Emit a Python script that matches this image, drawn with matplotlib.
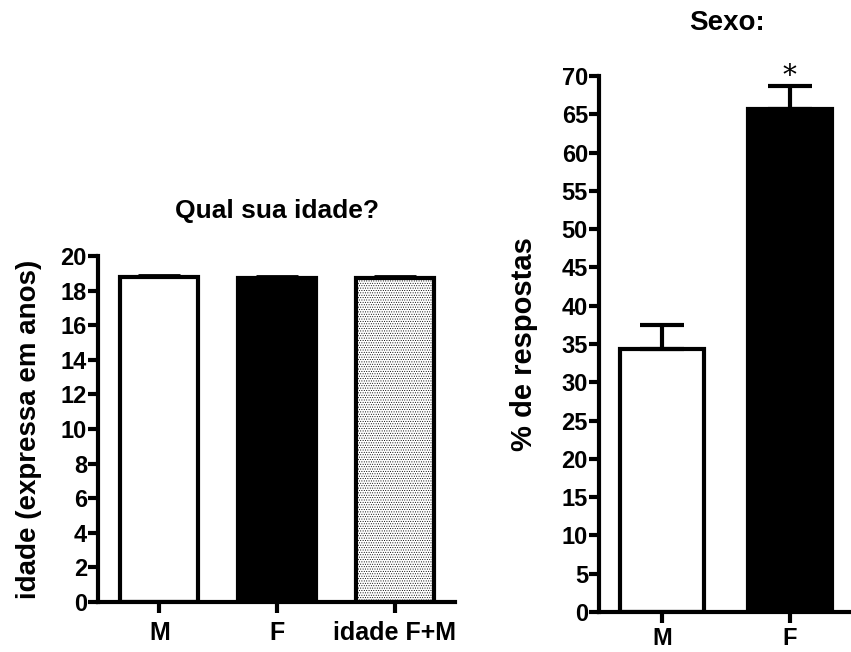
import matplotlib
matplotlib.use("Agg")
import matplotlib.pyplot as plt

plt.rcParams['font.family'] = ['Liberation Sans', 'DejaVu Sans']
plt.rcParams['font.weight'] = 'bold'
plt.rcParams['hatch.linewidth'] = 0.4

# idade
idade_labels = ["M", "F", "idade F+M"]
idade_media = [18.8, 18.75, 18.75]
idade_erro = [0.12, 0.1, 0.1]
idade_ticks = list(range(0, 21, 2))

# sexo
sexo_labels = ["M", "F"]
sexo_pct = [34.35, 65.65]
sexo_erro = [3.2, 3.0]
sexo_ticks = list(range(0, 71, 5))

LW = 3.0

fig = plt.figure(figsize=(8.51, 6.52), dpi=100)


def estilo(ax, xpad=6, xsize=18):
    for s in ["top", "right"]:
        ax.spines[s].set_visible(False)
    for s in ["left", "bottom"]:
        ax.spines[s].set_linewidth(LW)
    ax.tick_params(axis="y", width=LW, length=7, labelsize=17, pad=1)
    ax.tick_params(axis="x", width=LW, length=8, labelsize=xsize, pad=xpad)


# painel esquerdo
ax1 = fig.add_axes([0.1152, 0.0767, 0.4195, 0.5307])
x1 = range(len(idade_labels))
cores = ["white", "black", "white"]
hatches = [None, None, "......."]
for i in x1:
    ax1.bar(i, idade_media[i], width=0.66, color=cores[i], edgecolor="black",
            linewidth=LW, hatch=hatches[i], zorder=2)
    ax1.errorbar(i, idade_media[i], yerr=[[0], [idade_erro[i]]], color="black",
                 elinewidth=2, capsize=15, capthick=2, zorder=1)
ax1.set_xlim(-0.52, 2.51)
ax1.set_ylim(0, 20)
ax1.set_yticks(idade_ticks)
ax1.set_xticks(list(x1))
ax1.set_xticklabels(idade_labels)
ax1.set_ylabel("idade (expressa em anos)", fontsize=20, fontweight="bold",
               labelpad=13)
ax1.set_title("Qual sua idade?", fontsize=19, fontweight="bold", pad=27)
estilo(ax1)

# painel direito
ax2 = fig.add_axes([0.7039, 0.0613, 0.2996, 0.822])
x2 = range(len(sexo_labels))
cores2 = ["white", "black"]
for i in x2:
    ax2.bar(i, sexo_pct[i], width=0.66, color=cores2[i], edgecolor="black",
            linewidth=LW, zorder=2)
    ax2.errorbar(i, sexo_pct[i], yerr=[[0], [sexo_erro[i]]], color="black",
                 elinewidth=LW, capsize=16, capthick=LW, zorder=3)
ax2.text(1, 70.0, "*", ha="center", va="center",
         fontsize=20, fontweight="normal", family="DejaVu Serif")
ax2.set_xlim(-0.49, 1.5)
ax2.set_ylim(0, 70)
ax2.set_yticks(sexo_ticks)
ax2.set_xticks(list(x2))
ax2.set_xticklabels(sexo_labels)
ax2.set_ylabel("% de respostas", fontsize=21, fontweight="bold", labelpad=17)
ax2.set_title("Sexo:", fontsize=20, fontweight="bold", pad=33)
estilo(ax2, xpad=3, xsize=17)

fig.savefig("out.png", dpi=100)
